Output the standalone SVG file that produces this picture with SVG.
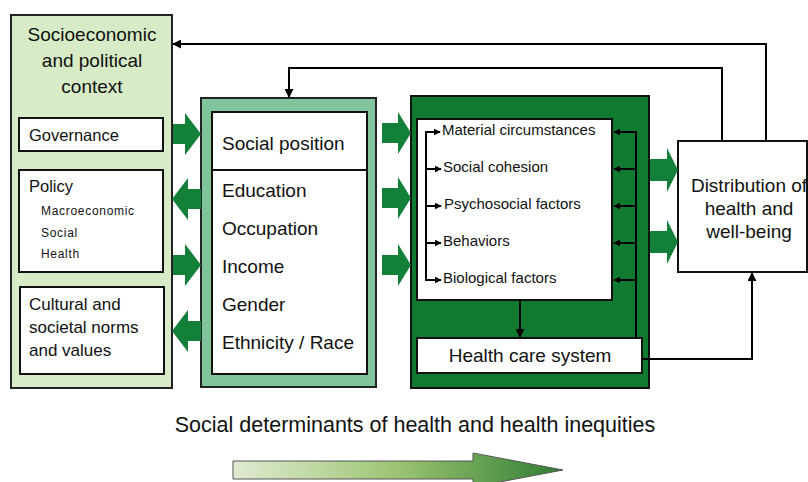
<svg xmlns="http://www.w3.org/2000/svg" width="808" height="482" viewBox="0 0 808 482">
<style>
.t{font-family:"Liberation Sans",Arial,sans-serif;fill:#111}
.ln{fill:none;stroke:#000;stroke-width:2}
.bx{fill:#fff;stroke:#111;stroke-width:2}
.ba{fill:#13803a}
</style>
<defs>
<marker id="ah" viewBox="0 0 10 10" refX="9" refY="5" markerWidth="9" markerHeight="9" markerUnits="userSpaceOnUse" orient="auto">
<path d="M0,0 L10,5 L0,10 z" fill="#000"/>
</marker>
<marker id="sa" viewBox="0 0 10 10" refX="9" refY="5" markerWidth="7" markerHeight="7" markerUnits="userSpaceOnUse" orient="auto">
<path d="M0,0 L10,5 L0,10 z" fill="#000"/>
</marker>
<linearGradient id="gr" x1="0" y1="0" x2="1" y2="0">
<stop offset="0" stop-color="#e0ebd2"/>
<stop offset="0.5" stop-color="#9cc472"/>
<stop offset="1" stop-color="#2e7d32"/>
</linearGradient>
</defs>

<g id="context">
<rect x="11" y="15" width="161" height="373" fill="#d7ebc6" stroke="#222" stroke-width="2"/>
<text class="t" x="92" y="41" font-size="19" text-anchor="middle">Socioeconomic</text>
<text class="t" x="92" y="67" font-size="19" text-anchor="middle">and political</text>
<text class="t" x="92" y="93" font-size="19" text-anchor="middle">context</text>
</g>
<g id="governance">
<rect class="bx" x="19" y="118" width="144" height="33"/>
<text class="t" x="29" y="141" font-size="16.5">Governance</text>
</g>
<g id="policy">
<rect class="bx" x="19" y="170" width="144" height="102"/>
<text class="t" x="29" y="192" font-size="16.5">Policy</text>
<text class="t" x="41" y="215" font-size="12" letter-spacing="0.7">Macroeconomic</text>
<text class="t" x="41" y="237" font-size="12" letter-spacing="0.7">Social</text>
<text class="t" x="41" y="258" font-size="12" letter-spacing="0.7">Health</text>
</g>
<g id="culture">
<rect class="bx" x="20" y="287" width="144" height="87"/>
<text class="t" x="29" y="310" font-size="17">Cultural and</text>
<text class="t" x="29" y="333" font-size="17">societal norms</text>
<text class="t" x="29" y="356" font-size="17">and values</text>
</g>

<g id="social-position">
<rect x="201" y="98" width="175" height="289" fill="#80c49b" stroke="#222" stroke-width="2"/>
<rect class="bx" x="212" y="112" width="155" height="262"/>
<line x1="212" y1="170" x2="367" y2="170" stroke="#111" stroke-width="2"/>
<text class="t" x="222" y="150" font-size="19">Social position</text>
<text class="t" x="222" y="197" font-size="19">Education</text>
<text class="t" x="222" y="235" font-size="19">Occupation</text>
<text class="t" x="222" y="273" font-size="19">Income</text>
<text class="t" x="222" y="311" font-size="19">Gender</text>
<text class="t" x="222" y="349" font-size="19">Ethnicity / Race</text>
</g>

<g id="intermediary">
<rect x="411" y="96" width="238" height="292" fill="#0f7a30" stroke="#111" stroke-width="2"/>
<rect class="bx" x="417" y="119" width="195" height="181"/>
<text class="t" x="442" y="135" font-size="15">Material circumstances</text>
<text class="t" x="443" y="172" font-size="15">Social cohesion</text>
<text class="t" x="444" y="209" font-size="15">Psychosocial factors</text>
<text class="t" x="443" y="246" font-size="15">Behaviors</text>
<text class="t" x="443" y="283" font-size="15">Biological factors</text>
</g>
<g id="health-care-system">
<rect class="bx" x="417" y="338" width="225" height="35"/>
<text class="t" x="530" y="362" font-size="19" text-anchor="middle">Health care system</text>
</g>

<g id="distribution">
<rect class="bx" x="678" y="141" width="129" height="131"/>
<text class="t" x="749" y="192" font-size="19" text-anchor="middle">Distribution of</text>
<text class="t" x="749" y="215" font-size="19" text-anchor="middle">health and</text>
<text class="t" x="749" y="238" font-size="19" text-anchor="middle">well-being</text>
</g>

<g id="connectors">
<polygon class="ba" points="173,124 185,124 185,113 201,134 185,155 185,144 173,144"/>
<polygon class="ba" points="201,189 188,189 188,178 172,199 188,220 188,209 201,209"/>
<polygon class="ba" points="173,255 185,255 185,244 201,265 185,286 185,275 173,275"/>
<polygon class="ba" points="201,321 188,321 188,310 172,331 188,352 188,341 201,341"/>
<polygon class="ba" points="382,123 398,123 398,112 411,133 398,154 398,143 382,143"/>
<polygon class="ba" points="382,188 398,188 398,177 411,198 398,219 398,208 382,208"/>
<polygon class="ba" points="382,255 398,255 398,244 411,265 398,286 398,275 382,275"/>
<polygon class="ba" points="650,159 667,159 667,148 678,170 667,192 667,181 650,181"/>
<polygon class="ba" points="650,231 667,231 667,220 678,242 667,264 667,253 650,253"/>

<polyline class="ln" points="766,141 766,44 173,44" marker-end="url(#ah)"/>
<polyline class="ln" points="722,141 722,68 289,68 289,97" marker-end="url(#ah)"/>
<polyline class="ln" points="642,359 752,359 752,273" marker-end="url(#ah)"/>
<line class="ln" x1="520" y1="300" x2="520" y2="337" marker-end="url(#ah)"/>

<polyline class="ln" points="426,132 426,280"/>
<line class="ln" x1="425" y1="132" x2="440" y2="132" marker-end="url(#sa)"/>
<line class="ln" x1="426" y1="169" x2="441" y2="169" marker-end="url(#sa)"/>
<line class="ln" x1="426" y1="206" x2="441" y2="206" marker-end="url(#sa)"/>
<line class="ln" x1="426" y1="243" x2="441" y2="243" marker-end="url(#sa)"/>
<line class="ln" x1="425" y1="280" x2="441" y2="280" marker-end="url(#sa)"/>
<polyline class="ln" points="636,131 636,338"/>
<line class="ln" x1="637" y1="132" x2="614" y2="132" marker-end="url(#sa)"/>
<line class="ln" x1="636" y1="169" x2="614" y2="169" marker-end="url(#sa)"/>
<line class="ln" x1="636" y1="206" x2="614" y2="206" marker-end="url(#sa)"/>
<line class="ln" x1="636" y1="243" x2="614" y2="243" marker-end="url(#sa)"/>
<line class="ln" x1="636" y1="280" x2="614" y2="280" marker-end="url(#sa)"/>
</g>

<g id="footer">
<text class="t" x="415" y="432" font-size="21.5" text-anchor="middle">Social determinants of health and health inequities</text>
<polygon points="233,461 473,461 473,453 563,470 473,487 473,479 233,479" fill="url(#gr)" stroke="#555" stroke-width="1"/>
</g>
</svg>
